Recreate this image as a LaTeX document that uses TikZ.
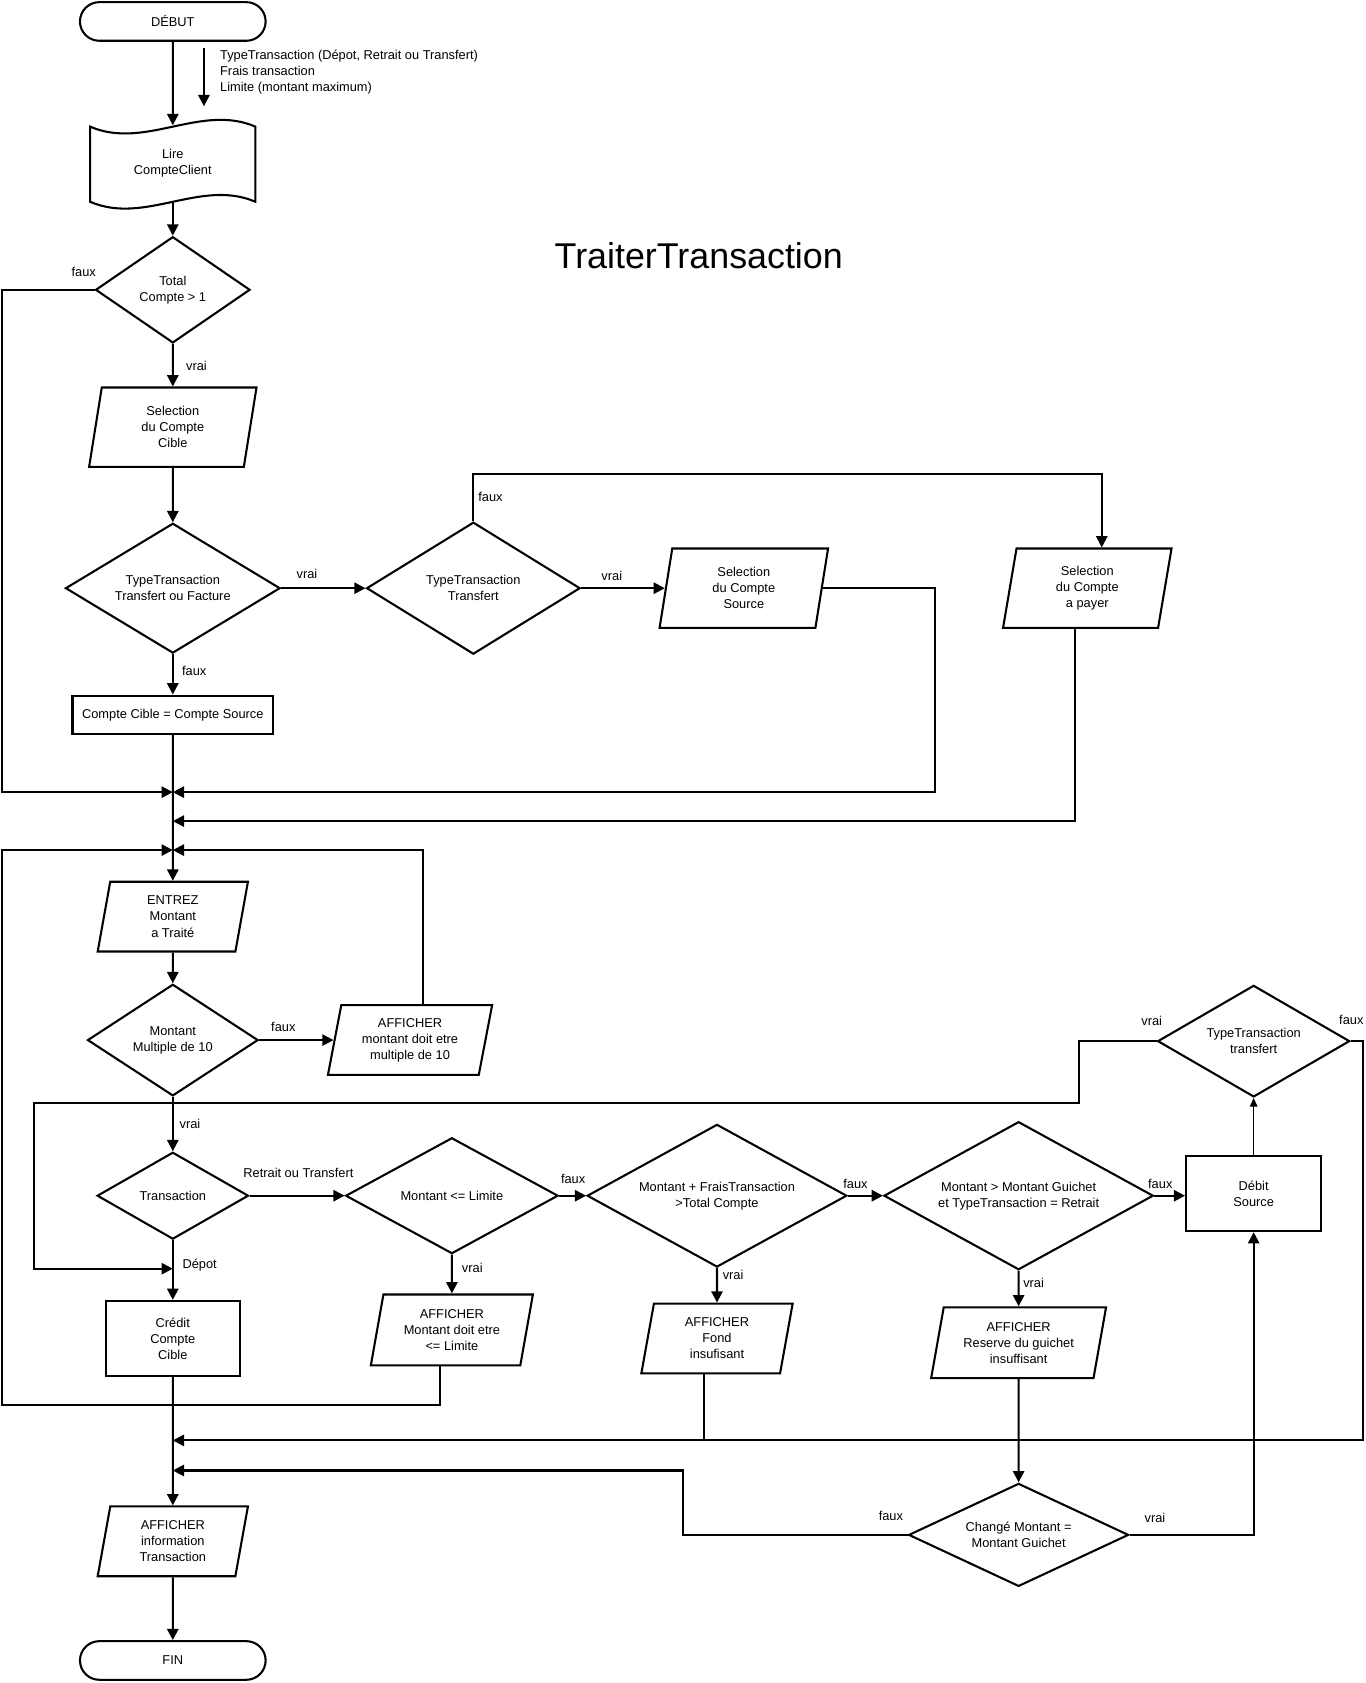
\documentclass[tikz,border=0pt]{standalone}
\usepackage{fontspec}
\setsansfont{Liberation Sans}
\usetikzlibrary{shapes.geometric,shapes.misc,arrows.meta,positioning}

\begin{document}
\begin{tikzpicture}[
    x=0.02cm, y=-0.02cm,
    font=\sffamily\fontsize{6.8}{8.5}\selectfont,
    terminal/.style={
        rounded rectangle,
        draw,
        line width=1.1pt,
        minimum width=3.46cm,
        minimum height=0.72cm,
        inner sep=0pt
    },
    decision/.style={
        diamond,
        draw,
        line width=1.1pt,
        aspect=2,
        inner sep=0pt,
        align=center
    },
    io/.style={
        trapezium,
        trapezium left angle=73,
        trapezium right angle=107,
        trapezium stretches body,
        draw,
        line width=1.1pt,
        inner sep=0pt,
        align=center
    },
    process/.style={
        rectangle,
        draw,
        line width=1.1pt,
        inner sep=2pt,
        align=center
    },
    lbl/.style={inner sep=1pt},
    line/.style={
        draw,
        line width=1.1pt,
        -{Triangle[length=0.21cm,width=0.21cm]}
    },
    wire/.style={draw, line width=1.1pt},
    thinline/.style={
        draw,
        line width=0.6pt,
        -{Triangle[length=0.16cm,width=0.14cm]}
    }
]
    \useasboundingbox (0,0) rectangle (1272,1568);

    % --- Title ---
    \node [font=\sffamily\fontsize{19}{22}\selectfont] (titre) at (651,238) {TraiterTransaction};

    % --- Start and reading ---
    \node [terminal] (debut) at (161,20) {DÉBUT};
    \node [lbl, anchor=west, align=left] (donnees) at (203,67) {
        TypeTransaction (Dépot, Retrait ou Transfert)\\
        Frais transaction\\
        Limite (montant maximum)
    };
    \coordinate (inA) at (190,45);
    \coordinate (inB) at (190,99);

    \node [minimum width=3.08cm, minimum height=1.4cm, align=center] (lire) at (161,152) {Lire\\CompteClient};
    \draw [wire] (84,118) .. controls (135,140) and (187,96) .. (238,118)
        -- (238,188) .. controls (187,166) and (135,210) .. (84,188) -- cycle;

    \node [decision, minimum width=2.88cm, minimum height=1.98cm] (total) at (161,270) {Total\\Compte > 1};
    \node [io, minimum width=3.12cm, minimum height=1.48cm] (selcible) at (161,398) {Selection\\du Compte\\Cible};
    \node [decision, minimum width=4.0cm, minimum height=2.42cm] (typeTF) at (161,548) {TypeTransaction\\Transfert ou Facture};
    \node [decision, minimum width=3.98cm, minimum height=2.46cm] (typeT) at (441,548) {TypeTransaction\\Transfert};
    \node [io, minimum width=3.14cm, minimum height=1.48cm] (selsource) at (693,548) {Selection\\du Compte\\Source};
    \node [io, minimum width=3.14cm, minimum height=1.48cm] (selpayer) at (1013,548) {Selection\\du Compte\\a payer};
    \node [process, minimum width=3.74cm, minimum height=0.72cm] (ccs) at (161,666) {Compte Cible = Compte Source};

    % --- Amount input ---
    \node [io, minimum width=2.8cm, minimum height=1.3cm] (entrez) at (161,854) {ENTREZ\\Montant\\a Traité};
    \node [decision, minimum width=3.18cm, minimum height=2.08cm] (mult) at (161,969) {Montant\\Multiple de 10};
    \node [io, minimum width=3.06cm, minimum height=1.3cm] (affmult) at (382,969) {AFFICHER\\montant doit etre\\multiple de 10};

    % --- Transaction checks ---
    \node [decision, minimum width=2.82cm, minimum height=1.62cm] (trans) at (161,1114) {Transaction};
    \node [process, minimum width=2.5cm, minimum height=1.4cm] (credit) at (161,1247) {Crédit\\Compte\\Cible};
    \node [decision, minimum width=3.96cm, minimum height=2.16cm] (lim) at (421,1114) {Montant <= Limite};
    \node [io, minimum width=3.02cm, minimum height=1.32cm] (afflim) at (421,1239) {AFFICHER\\Montant doit etre\\<= Limite};
    \node [decision, minimum width=4.84cm, minimum height=2.66cm] (frais) at (668,1114) {Montant + FraisTransaction\\>Total Compte};
    \node [io, minimum width=2.82cm, minimum height=1.3cm] (afffond) at (668,1247) {AFFICHER\\Fond\\insufisant};
    \node [decision, minimum width=5.02cm, minimum height=2.76cm] (guichet) at (949,1114) {Montant > Montant Guichet\\et TypeTransaction = Retrait};
    \node [io, minimum width=3.26cm, minimum height=1.32cm] (affguichet) at (949,1251) {AFFICHER\\Reserve du guichet\\insuffisant};
    \node [process, minimum width=2.52cm, minimum height=1.4cm] (debit) at (1168,1112) {Débit\\Source};
    \node [decision, minimum width=3.58cm, minimum height=2.08cm] (tt) at (1168,970) {TypeTransaction\\transfert};
    \node [decision, minimum width=4.1cm, minimum height=1.92cm] (change) at (949,1430) {Changé Montant =\\Montant Guichet};

    % --- End ---
    \node [io, minimum width=2.8cm, minimum height=1.3cm] (affinfo) at (161,1436) {AFFICHER\\information\\Transaction};
    \node [terminal] (fin) at (161,1547) {FIN};

    % --- Junction points on the main line ---
    \coordinate (j1) at (161,738);
    \coordinate (j2) at (161,765);
    \coordinate (j3) at (161,792);
    \coordinate (j5) at (161,1182);
    \coordinate (j6) at (161,1342);
    \coordinate (j7) at (161,1370);
    \coordinate (cL1) at (2,738);
    \coordinate (cR1) at (871,738);
    \coordinate (cL3) at (2,792);
    \coordinate (cA) at (1005,1028);
    \coordinate (cB) at (32,1182);
    \coordinate (cC) at (1270,1342);
    \coordinate (cD) at (636,1370);
    \coordinate (fondbas) at (656,1280);

    % --- Labels ---
    \node [lbl] (l1) at (78,253) {faux};
    \node [lbl] (l2) at (183,341) {vrai};
    \node [lbl] (l3) at (286,535) {vrai};
    \node [lbl] (l4) at (181,625) {faux};
    \node [lbl] (l5) at (457,463) {faux};
    \node [lbl] (l6) at (570,537) {vrai};
    \node [lbl] (l7) at (264,957) {faux};
    \node [lbl] (l8) at (177,1047) {vrai};
    \node [lbl] (l9) at (278,1093) {Retrait ou Transfert};
    \node [lbl] (l10) at (186,1179) {Dépot};
    \node [lbl] (l11) at (534,1098) {faux};
    \node [lbl] (l12) at (440,1181) {vrai};
    \node [lbl] (l13) at (797,1103) {faux};
    \node [lbl] (l14) at (683,1188) {vrai};
    \node [lbl] (l15) at (1081,1103) {faux};
    \node [lbl] (l16) at (963,1195) {vrai};
    \node [lbl] (l17) at (1073,951) {vrai};
    \node [lbl] (l18) at (1259,950) {faux};
    \node [lbl] (l19) at (830,1412) {faux};
    \node [lbl] (l20) at (1076,1414) {vrai};

    % --- Flow lines ---
    \path [line] (debut) -- (lire);
    \path [line] (inA) -- (inB);
    \path [line] (lire) -- (total);
    \path [line] (total) -- (selcible);
    \path [line] (total.west) -| (cL1) -- (j1);
    \path [line] (selcible) -- (typeTF);
    \path [line] (typeTF.east) -- (typeT.west);
    \path [line] (typeTF) -- (ccs);
    \path [line] (typeT.east) -- (selsource.left side);
    \path [line] (typeT.north) -- ++(0,-44) -| ([xshift=4pt]selpayer.top side);
    \path [line] (selsource.right side) -| (cR1) -- (j1);
    \path [line] ([xshift=-3pt]selpayer.bottom side) |- (j2);
    \path [line] (ccs) -- (entrez);

    \path [line] (entrez) -- (mult);
    \path [line] (mult.east) -- (affmult.left side);
    \path [line] ([xshift=3pt]affmult.top side) |- (j3);
    \path [line] (mult) -- (trans);
    \path [line] (trans) -- (credit);
    \path [line] (trans.east) -- (lim.west);
    \path [line] (lim) -- (afflim);
    \path [line] ([xshift=-3pt]afflim.bottom side) -- ++(0,36) -| (cL3) -- (j3);
    \path [line] (lim.east) -- (frais.west);
    \path [line] (frais) -- (afffond);
    \path [wire] (fondbas) -- (fondbas |- j6);
    \path [line] (frais.east) -- (guichet.west);
    \path [line] (guichet) -- (affguichet);
    \path [line] (affguichet) -- (change);
    \path [line] (guichet.east) -- (guichet.east -| debit.west);
    \path [thinline] (debit) -- (tt);
    \path [line] (tt.west) -| (cA) -| (cB) -- (j5);
    \path [line] (tt.east) -| (cC) -- (j6);
    \path [line] (change.west) -| (cD) -- (j7);
    \path [line] (change.east) -| (debit.south);

    \path [line] (credit) -- (affinfo);
    \path [line] (affinfo) -- (fin);

\end{tikzpicture}
\end{document}
